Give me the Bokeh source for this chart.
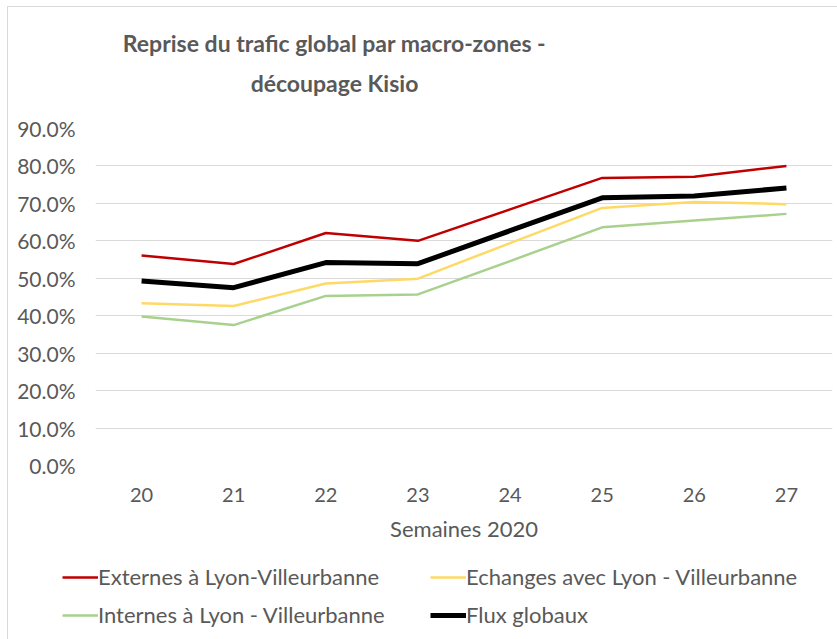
from bokeh.plotting import figure
from bokeh.layouts import column
from bokeh.models import (Range1d, FixedTicker, Legend, LegendItem, Label,
                          NumeralTickFormatter)
from bokeh.embed import file_html
from bokeh.resources import INLINE

weeks = [20, 21, 22, 23, 24, 25, 26, 27]
externes = [0.561, 0.538, 0.621, 0.600, 0.684, 0.768, 0.771, 0.800]
echanges = [0.433, 0.426, 0.486, 0.499, 0.594, 0.688, 0.704, 0.698]
internes = [0.398, 0.375, 0.453, 0.457, 0.546, 0.636, 0.654, 0.672]
globaux = [0.493, 0.475, 0.542, 0.539, 0.627, 0.715, 0.720, 0.741]
y_ticks = [0.0, 0.1, 0.2, 0.3, 0.4, 0.5, 0.6, 0.7, 0.8, 0.9]
series_names = ["Externes à Lyon-Villeurbanne", "Echanges avec Lyon - Villeurbanne",
                "Internes à Lyon - Villeurbanne", "Flux globaux"]
title_lines = ["Reprise du trafic global par macro-zones -", "découpage Kisio"]
x_title = "Semaines 2020"

FONT = "Lato"
GRAY = "#595959"
COLORS = ["#C00000", "#FFD966", "#A9D18E", "#000000"]
WIDTHS = [2.5, 2.5, 2.5, 5]
SERIES = [externes, echanges, internes, globaux]
W = 829
TOP = 7     # page y of content top
LEFT = 8    # page x of content left
TITLE_H = 108
MAIN_H = 430
LEG_H = 94

def blank(h, y0):
    f = figure(width=W, height=h, output_backend="svg", toolbar_location=None,
               x_axis_type=None, y_axis_type=None,
               x_range=Range1d(LEFT, LEFT + W), y_range=Range1d(y0 + h, y0),
               min_border=0, min_border_left=0, min_border_right=0,
               min_border_top=0, min_border_bottom=0, frame_align=False)
    f.outline_line_color = None
    f.grid.visible = False
    return f

# ---- title figure (data coordinates = page pixels)
t = blank(TITLE_H, TOP)
for txt, yy in zip(title_lines, [42, 82]):
    t.add_layout(Label(x=334, y=yy, text=txt, text_font=FONT,
                       text_font_style="bold", text_font_size="23px",
                       text_color=GRAY, text_align="center",
                       text_baseline="middle"))

# ---- main chart
main_top = TOP + TITLE_H
p = figure(width=W, height=MAIN_H, output_backend="svg", toolbar_location=None,
           x_range=Range1d(19.5, 27.5), y_range=Range1d(0, 0.9),
           min_border_left=95 - LEFT, min_border_right=5,
           min_border_top=128 - main_top,
           min_border_bottom=main_top + MAIN_H - 465, frame_align=False)
p.outline_line_color = None
p.xaxis.ticker = FixedTicker(ticks=weeks)
p.yaxis.ticker = FixedTicker(ticks=y_ticks)
p.yaxis.formatter = NumeralTickFormatter(format="0.0%")
for ax in (p.xaxis[0], p.yaxis[0]):
    ax.axis_line_color = None
    ax.major_tick_line_color = None
    ax.minor_tick_line_color = None
    ax.major_label_text_font = FONT
    ax.major_label_text_font_size = "20px"
    ax.major_label_text_color = GRAY
p.yaxis.major_label_text_font_size = "21px"
p.yaxis.major_label_standoff = 14
p.xaxis.major_label_standoff = 16
p.xaxis.axis_label = x_title
p.xaxis.axis_label_text_font = FONT
p.xaxis.axis_label_text_font_style = "normal"
p.xaxis.axis_label_text_font_size = "22px"
p.xaxis.axis_label_text_color = GRAY
p.xaxis.axis_label_standoff = 10
p.xgrid.grid_line_color = None
p.ygrid.grid_line_color = "#D9D9D9"
p.ygrid.grid_line_width = 1

for vals, c, w in zip(SERIES, COLORS, WIDTHS):
    p.line(weeks, vals, line_color=c, line_width=w)

# ---- legend figure (series drawn out of view, used as legend keys)
leg_top = main_top + MAIN_H
lf = blank(LEG_H, leg_top)
keys = [lf.line(weeks, vals, line_color=c, line_width=w)
        for vals, c, w in zip(SERIES, COLORS, WIDTHS)]

def make_legend(idx, x):
    lg = Legend(items=[LegendItem(label=series_names[i], renderers=[keys[i]]) for i in idx],
                location=(x - LEFT, leg_top + LEG_H - 628), orientation="vertical",
                label_text_font=FONT, label_text_font_size="22px",
                label_text_color=GRAY, glyph_width=36, glyph_height=22,
                label_standoff=0, spacing=11, padding=0, margin=0,
                border_line_color=None, background_fill_alpha=0,
                label_height=22)
    lf.add_layout(lg, "center")

make_legend([0, 2], 62)
make_legend([1, 3], 430)

layout = column(t, p, lf, spacing=0,
                styles={"border-left": "1px solid #D9D9D9",
                        "border-top": "1px solid #D9D9D9",
                        "margin-left": "7px", "margin-top": "6px"})
open("out.html", "w").write(file_html(layout, INLINE))
